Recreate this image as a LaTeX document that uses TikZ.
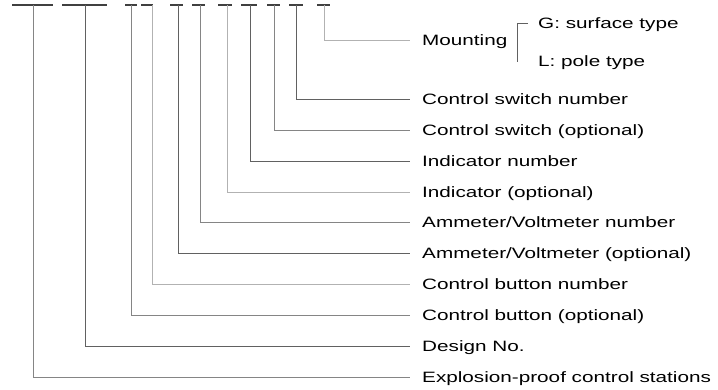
\documentclass[tikz,border=0pt]{standalone}
\usepackage{fontspec}
\setmainfont{Liberation Sans}[FakeStretch=1.38]
\begin{document}
\begin{tikzpicture}[x=1pt,y=-1pt,
  lbl/.style={anchor=west,inner xsep=12pt,inner ysep=0pt,text height=11pt,text depth=0pt,font=\fontsize{15}{17}\selectfont,text=black},
  sub/.style={lbl,inner xsep=10pt},
  dsh/.style={draw=black!75,line width=1.6pt},
  cdark/.style={draw=black!62,line width=0.9pt},
  cmid/.style={draw=black!48,line width=0.9pt},
  clight/.style={draw=black!30,line width=0.9pt}]
\useasboundingbox (0,0) rectangle (718,389);
% dashes of the type code
\foreach \a/\b in {12/53,62/107,125/137,141/153,170/183,192/205,218/232,241/257,267/280,289/303,317/330}
  \draw[dsh] (\a,5) -- (\b,5);
% top points
\coordinate (t1) at (33,5);
\coordinate (t2) at (85,5);
\coordinate (t3) at (131,5);
\coordinate (t4) at (152,5);
\coordinate (t5) at (178,5);
\coordinate (t6) at (200,5);
\coordinate (t7) at (227,5);
\coordinate (t8) at (250,5);
\coordinate (t9) at (274,5);
\coordinate (t10) at (296,5);
\coordinate (t11) at (324,5);
% labels
\node[lbl] (mount) at (410,40) {Mounting};
\node[lbl] (csn) at (410,99) {Control switch number};
\node[lbl] (cso) at (410,130) {Control switch (optional)};
\node[lbl] (inn) at (410,161) {Indicator number};
\node[lbl] (ino) at (410,192) {Indicator (optional)};
\node[lbl] (avn) at (410,222) {Ammeter/Voltmeter number};
\node[lbl] (avo) at (410,253) {Ammeter/Voltmeter (optional)};
\node[lbl] (cbn) at (410,284) {Control button number};
\node[lbl] (cbo) at (410,315) {Control button (optional)};
\node[lbl] (des) at (410,346) {Design No.};
\node[lbl] (exp) at (410,377) {Explosion-proof control stations};
% mounting options
\node[sub] (gs) at (528,23) {G: surface type};
\node[sub] (lp) at (528,61) {L: pole type};
\coordinate (bb) at (517,62);
\draw[cdark,line width=0.8pt] (gs.west) -| (bb);
% connectors
\draw[clight] (t11) |- (mount.west);
\draw[cdark] (t10) |- (csn.west);
\draw[cmid] (t9) |- (cso.west);
\draw[cdark] (t8) |- (inn.west);
\draw[clight] (t7) |- (ino.west);
\draw[cmid] (t6) |- (avn.west);
\draw[cdark] (t5) |- (avo.west);
\draw[clight] (t4) |- (cbn.west);
\draw[cmid] (t3) |- (cbo.west);
\draw[cdark] (t2) |- (des.west);
\draw[cmid] (t1) |- (exp.west);
\end{tikzpicture}
\end{document}
